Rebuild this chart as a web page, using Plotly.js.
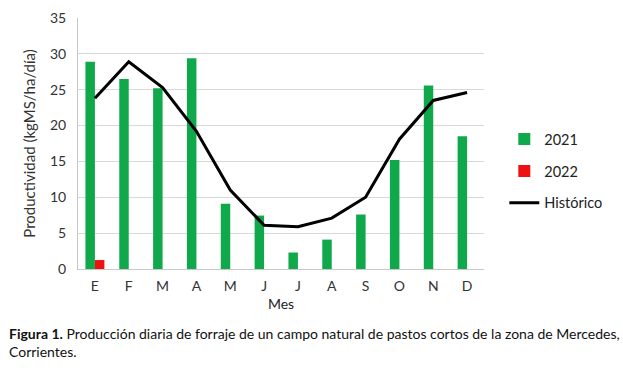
<!DOCTYPE html>
<html><head><meta charset="utf-8">
<script src="https://cdn.plot.ly/plotly-3.0.1.min.js"></script>
<style>html,body{margin:0;padding:0;background:#fff;}#chart{width:623px;height:370px;}</style>
</head><body><div id="chart"></div>
<script>
const meses = ["E","F","M","A","M ","J","J ","A ","S","O","N","D"];
const mesLabels = ["E","F","M","A","M","J","J","A","S","O","N","D"];
const serie2021 = [28.9, 26.5, 25.2, 29.4, 9.1, 7.45, 2.3, 4.1, 7.6, 15.2, 25.6, 18.5];
const serie2022 = [1.25, null, null, null, null, null, null, null, null, null, null, null];
const historico = [23.8, 28.9, 25.3, 19.2, 11.0, 6.1, 5.9, 7.1, 10.0, 18.1, 23.5, 24.6];
const yTicks = [0,5,10,15,20,25,30,35];

const font = "Lato, 'Open Sans', sans-serif";
const data = [
  {type:"bar", name:"2021", legendgroup:"a", x:meses, y:serie2021, marker:{color:"#0fa84a"}},
  {type:"bar", name:"2022", legendgroup:"b", x:meses, y:serie2022, marker:{color:"#ee1111"}},
  {type:"scatter", mode:"lines", name:"Histórico", legendgroup:"c", x:meses, y:historico, line:{color:"#000", width:3}}
];
const layout = {
  width:623, height:370,
  margin:{l:78, r:139, t:18, b:101},
  paper_bgcolor:"#fff", plot_bgcolor:"#fff",
  font:{family:font, size:14, color:"#333"},
  barmode:"group", bargap:0.44, bargroupgap:0,
  showlegend:true,
  legend:{x:1.05, y:0.39, xanchor:"left", yanchor:"middle", font:{size:14.5, color:"#222"}, traceorder:"grouped", tracegroupgap:10, itemwidth:30, bgcolor:"rgba(0,0,0,0)"},
  xaxis:{type:"category", tickvals:meses, ticktext:mesLabels, showgrid:false, showline:true, linecolor:"#c8c8c8", linewidth:1, ticks:"", ticklabelstandoff:4, tickfont:{size:14, color:"#333"}, title:{text:"Mes", font:{size:14, color:"#222"}, standoff:6}, fixedrange:true},
  yaxis:{range:[0,35], tickvals:yTicks, showgrid:true, gridcolor:"#d9d9d9", gridwidth:1, showline:true, linecolor:"#c8c8c8", zeroline:false, ticks:"", ticklabelstandoff:8, tickfont:{size:14, color:"#333"}, title:{text:"Productividad (kgMS/ha/día)", font:{size:15, color:"#333"}, standoff:10}, fixedrange:true},
  annotations:[
    {xref:"paper", yref:"paper", x:-0.175, y:-0.215, xanchor:"left", yanchor:"top", align:"left", showarrow:false,
     text:"<b>Figura 1.</b> Producción diaria de forraje de un campo natural de pastos cortos de la zona de Mercedes,<br>Corrientes.",
     font:{size:14, color:"#111", family:font}}
  ]
};
Plotly.newPlot("chart", data, layout, {displayModeBar:false, staticPlot:true});
</script></body></html>
